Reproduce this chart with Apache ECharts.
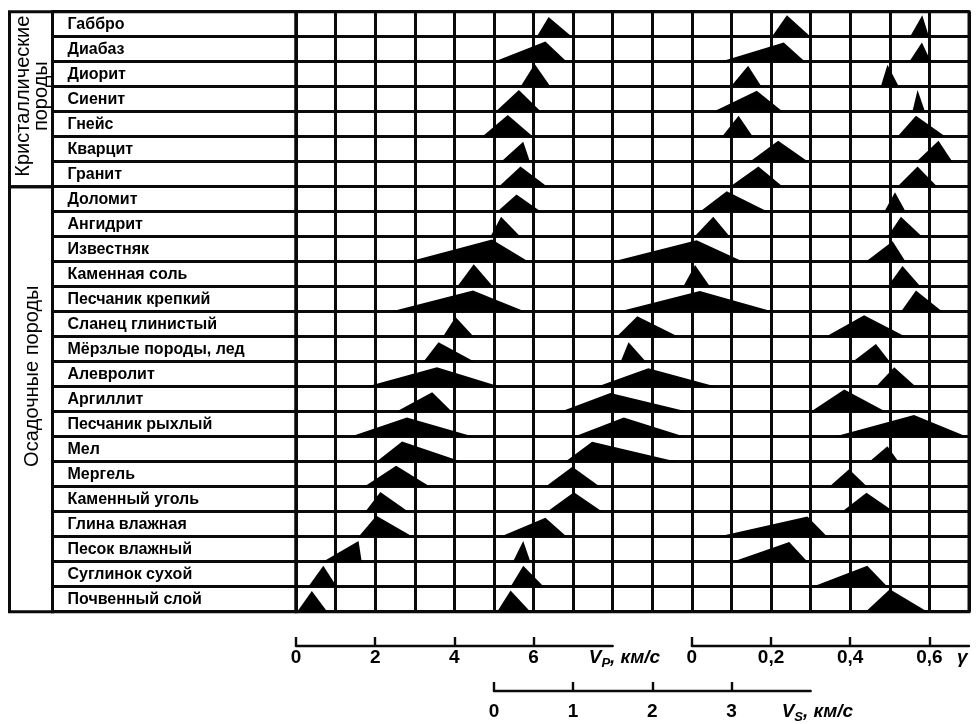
<!DOCTYPE html>
<html>
<head>
<meta charset="utf-8">
<script src="https://cdn.jsdelivr.net/npm/echarts@6/dist/echarts.min.js"></script>
<style>
  html, body { margin: 0; padding: 0; background: #ffffff; }
  #chart { width: 980px; height: 724px; }
</style>
</head>
<body>
<div id="chart"></div>
<script>
// Rock types, top to bottom
const rocks = [
  'Габбро', 'Диабаз', 'Диорит', 'Сиенит', 'Гнейс', 'Кварцит', 'Гранит',
  'Доломит', 'Ангидрит', 'Известняк', 'Каменная соль', 'Песчаник крепкий',
  'Сланец глинистый', 'Мёрзлые породы, лед', 'Алевролит', 'Аргиллит',
  'Песчаник рыхлый', 'Мел', 'Мергель', 'Каменный уголь', 'Глина влажная',
  'Песок влажный', 'Суглинок сухой', 'Почвенный слой'
];

// Rock groups: label, first row, row after the last one
const groupLabels = ['Кристаллические\nпороды', 'Осадочные породы'];
const groupStart = [0, 7];
const groupEnd = [7, 24];

// Distributions: [lowest, most frequent, highest, peak height (share of row)]
const vp = [
  [6.08, 6.38, 6.97, 0.79], [5.00, 6.30, 6.84, 0.81], [5.67, 6.03, 6.43, 0.91],
  [5.04, 5.63, 6.19, 0.87], [4.70, 5.35, 5.99, 0.87], [5.18, 5.74, 5.91, 0.80],
  [5.12, 5.67, 6.35, 0.81], [5.08, 5.57, 6.19, 0.69], [4.91, 5.18, 5.67, 0.80],
  [2.84, 4.95, 5.88, 0.89], [4.07, 4.49, 4.98, 0.90], [2.38, 4.47, 5.80, 0.85],
  [3.71, 4.03, 4.49, 0.79], [3.22, 3.60, 4.51, 0.78], [1.77, 3.56, 5.16, 0.78],
  [2.53, 3.44, 3.94, 0.78], [1.37, 2.80, 4.49, 0.77], [2.03, 2.68, 4.19, 0.81],
  [1.72, 2.53, 3.39, 0.84], [1.75, 2.13, 2.84, 0.79], [1.58, 2.03, 2.95, 0.84],
  [0.68, 1.58, 1.66, 0.83], [0.31, 0.69, 1.03, 0.84], [0.03, 0.40, 0.79, 0.83]
];
const vs = [
  [3.51, 3.70, 4.00, 0.86], [2.86, 3.66, 3.93, 0.77], [2.99, 3.21, 3.38, 0.84],
  [2.77, 3.32, 3.65, 0.84], [2.88, 3.09, 3.27, 0.84], [3.23, 3.59, 3.97, 0.84],
  [2.98, 3.34, 3.65, 0.81], [2.60, 2.94, 3.46, 0.82], [2.53, 2.77, 2.98, 0.80],
  [1.49, 2.56, 3.15, 0.86], [2.39, 2.54, 2.73, 0.87], [1.57, 2.60, 3.53, 0.83],
  [1.55, 1.81, 2.33, 0.82], [1.60, 1.70, 1.92, 0.78], [1.30, 1.95, 2.81, 0.74],
  [0.84, 1.47, 2.45, 0.75], [1.01, 1.64, 2.41, 0.77], [0.90, 1.24, 2.31, 0.80],
  [0.65, 0.99, 1.34, 0.80], [0.67, 1.01, 1.37, 0.78], [0.08, 0.65, 0.92, 0.76],
  [0.24, 0.37, 0.46, 0.83], [0.21, 0.37, 0.63, 0.84], [0.04, 0.21, 0.46, 0.85]
];
const gamma = [
  [0.551, 0.582, 0.599, 0.86], [0.549, 0.581, 0.604, 0.77], [0.477, 0.494, 0.523, 0.88],
  [0.557, 0.570, 0.589, 0.87], [0.519, 0.566, 0.641, 0.84], [0.567, 0.623, 0.658, 0.84],
  [0.519, 0.570, 0.620, 0.81], [0.486, 0.513, 0.540, 0.78], [0.494, 0.528, 0.582, 0.80],
  [0.439, 0.507, 0.540, 0.82], [0.494, 0.532, 0.578, 0.83], [0.528, 0.566, 0.633, 0.85],
  [0.338, 0.435, 0.540, 0.86], [0.406, 0.465, 0.500, 0.71], [0.465, 0.511, 0.566, 0.78],
  [0.300, 0.385, 0.490, 0.89], [0.359, 0.561, 0.695, 0.87], [0.448, 0.494, 0.522, 0.62],
  [0.347, 0.397, 0.443, 0.70], [0.379, 0.441, 0.511, 0.76], [0.065, 0.292, 0.342, 0.81],
  [0.103, 0.246, 0.292, 0.79], [0.305, 0.443, 0.494, 0.84], [0.439, 0.500, 0.595, 0.90]
];

// Scale ticks
const vpTicks = [0, 2, 4, 6];
const vsTicks = [0, 1, 2, 3];
const gammaTicks = [0, 0.2, 0.4, 0.6];

// ---- layout ----
const TOP = 11.7, HEIGHT = 600;
const TABLE_L = 9.5, GROUP_W = 43;
const PLOT_L = 296, PLOT_W = 673, COLS = 17;
const COL = PLOT_W / COLS;
const INK = '#0a0a0a';
const LW = 3;
const FONT = '"Liberation Sans", Arial, sans-serif';

const hidden = { show: false };

function triangleSeries(values, xAxisIndex) {
  return {
    type: 'custom',
    xAxisIndex: xAxisIndex,
    yAxisIndex: 0,
    silent: true,
    clip: false,
    data: values.map((v, i) => [i, v[0], v[1], v[2], v[3]]),
    encode: { x: [1, 2, 3], y: 0 },
    renderItem(params, api) {
      const row = api.value(0);
      const band = api.size([0, 1])[1];
      const left = api.coord([api.value(1), row]);
      const bottom = left[1] + band / 2;
      const xMode = api.coord([api.value(2), row])[0];
      const xRight = api.coord([api.value(3), row])[0];
      const top = bottom - band * api.value(4);
      return {
        type: 'polygon',
        shape: { points: [[left[0], bottom], [xMode, top], [xRight, bottom]] },
        style: { fill: '#000' }
      };
    }
  };
}

const groupShift = [-3, -23];

const nameRich = {
  v: { fontFamily: FONT, fontSize: 19, fontStyle: 'italic', fontWeight: 'bold', color: '#000', lineHeight: 24 },
  s: { fontFamily: FONT, fontSize: 13, fontStyle: 'italic', fontWeight: 'bold', color: '#000', lineHeight: 14, verticalAlign: 'bottom' }
};
function scaleAxis(gridIndex, max, ticks, name, nameGap, fmt, gap) {
  return {
    type: 'value', gridIndex: gridIndex, min: 0, max: max, position: 'bottom',
    axisLine: { show: true, lineStyle: { color: INK, width: 2.4 } },
    axisTick: { show: true, inside: true, length: 9, customValues: ticks, lineStyle: { color: INK, width: 2.4 } },
    axisLabel: { customValues: ticks, formatter: fmt, margin: gap,
                 color: '#000', fontFamily: FONT, fontSize: 19, fontWeight: 'bold' },
    splitLine: { show: false },
    name: name, nameLocation: 'end', nameGap: nameGap,
    nameTextStyle: { rich: nameRich, verticalAlign: 'top', padding: [gap - 2, 0, 0, 0] }
  };
}
const comma = v => String(v).replace('.', ',');

const option = {
  backgroundColor: '#ffffff',
  animation: false,
  grid: [
    // distributions
    { left: PLOT_L, top: TOP, width: PLOT_W, height: HEIGHT, show: true, borderColor: INK, borderWidth: LW, backgroundColor: 'transparent' },
    // rock names
    { left: TABLE_L + GROUP_W, top: TOP, width: PLOT_L - TABLE_L - GROUP_W, height: HEIGHT, show: true, borderColor: INK, borderWidth: LW },
    // rock groups
    { left: TABLE_L, top: TOP, width: GROUP_W, height: HEIGHT, show: false },
    // Vp scale
    { left: PLOT_L, top: 645, width: 8 * COL, height: 1, show: false },
    // gamma scale
    { left: PLOT_L + 10 * COL, top: 645, width: 7 * COL, height: 1, show: false },
    // Vs scale
    { left: PLOT_L + 5 * COL, top: 690.7, width: 8 * COL, height: 1, show: false }
  ],
  xAxis: [
    // 0: Vp, one column per km/s; also draws the cell grid
    { type: 'value', gridIndex: 0, min: 0, max: COLS, interval: 1,
      axisLine: hidden, axisTick: hidden, axisLabel: hidden,
      splitLine: { show: true, lineStyle: { color: INK, width: LW } } },
    // 1: Vs, zero at the 5th line, 0.5 km/s per column
    { type: 'value', gridIndex: 0, min: -2.5, max: 6, show: false, splitLine: hidden },
    // 2: gamma, zero at the 10th line, 0.1 per column
    { type: 'value', gridIndex: 0, min: -1.0, max: 0.7, show: false, splitLine: hidden },
    { type: 'value', gridIndex: 1, min: 0, max: 1, show: false, splitLine: hidden },
    { type: 'value', gridIndex: 2, min: 0, max: 1, show: false, splitLine: hidden },
    scaleAxis(3, 8, vpTicks, '{v|V}{s|P}{v|, км/с}', -24, v => String(v), 2),
    scaleAxis(4, 0.7, gammaTicks, '{v|γ}', -12, comma, 2),
    scaleAxis(5, 4, vsTicks, '{v|V}{s|S}{v|, км/с}', -29, v => String(v), 11)
  ],
  yAxis: [
    { type: 'category', gridIndex: 0, data: rocks, inverse: true,
      axisLine: hidden, axisTick: hidden, axisLabel: hidden,
      splitLine: { show: true, lineStyle: { color: INK, width: LW } } },
    { type: 'category', gridIndex: 1, data: rocks, inverse: true,
      axisLine: hidden, axisTick: hidden,
      axisLabel: { inside: true, margin: 15, color: '#000', fontFamily: FONT, fontSize: 16, fontWeight: 'bold' },
      splitLine: { show: true, lineStyle: { color: INK, width: LW } } },
    { type: 'value', gridIndex: 2, min: 0, max: rocks.length, inverse: true, show: false, splitLine: hidden },
    { type: 'value', gridIndex: 3, show: false, splitLine: hidden },
    { type: 'value', gridIndex: 4, show: false, splitLine: hidden },
    { type: 'value', gridIndex: 5, show: false, splitLine: hidden }
  ],
  series: [
    triangleSeries(vp, 0),
    triangleSeries(vs, 1),
    triangleSeries(gamma, 2),
    {
      type: 'custom',
      xAxisIndex: 4,
      yAxisIndex: 2,
      silent: true,
      data: groupLabels.map((g, i) => [groupStart[i], groupEnd[i]]),
      encode: { y: [0, 1] },
      renderItem(params, api) {
        const a = api.coord([0, api.value(0)]);
        const b = api.coord([1, api.value(1)]);
        const i = params.dataIndex;
        return {
          type: 'group',
          children: [
            { type: 'rect', shape: { x: a[0], y: a[1], width: b[0] - a[0], height: b[1] - a[1] },
              style: { fill: 'none', stroke: INK, lineWidth: LW } },
            { type: 'text', x: (a[0] + b[0]) / 2 + 1, y: (a[1] + b[1]) / 2 + groupShift[i], rotation: Math.PI / 2,
              style: { text: groupLabels[i], fill: '#000', font: '20px ' + FONT,
                       align: 'center', verticalAlign: 'middle', lineHeight: 18 } }
          ]
        };
      }
    }
  ]
};

const chart = echarts.init(document.getElementById('chart'));
chart.setOption(option);
</script>
</body>
</html>
